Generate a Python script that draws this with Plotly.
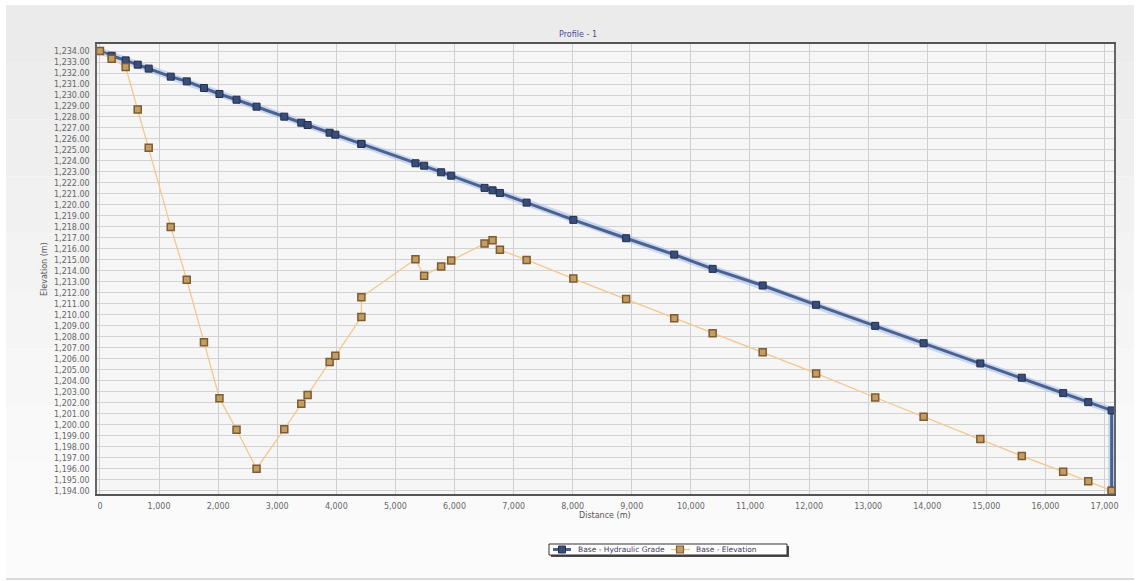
import plotly.graph_objects as go

# Distance along profile (m)
distance = [0, 198, 435, 639, 825, 1198, 1469, 1760, 2022, 2311, 2650, 3119, 3407, 3514,
            3887, 3983, 4424, 4424, 5339, 5486, 5774, 5944, 6508, 6644, 6768, 7220, 8011,
            8904, 9718, 10368, 11215, 12119, 13119, 13938, 14898, 15600, 16300, 16724, 17120]

# Base - Hydraulic Grade (m)
hydraulic_grade = [1234.0, 1233.57, 1233.15, 1232.76, 1232.4, 1231.67, 1231.24, 1230.64, 1230.09,
                   1229.57, 1228.94, 1228.03, 1227.48, 1227.27, 1226.57, 1226.39, 1225.55, 1225.55,
                   1223.79, 1223.57, 1222.97, 1222.66, 1221.55, 1221.33, 1221.09, 1220.21, 1218.64,
                   1216.97, 1215.48, 1214.18, 1212.67, 1210.91, 1209.0, 1207.42, 1205.58, 1204.28,
                   1202.88, 1202.06, 1201.3]

# End drop of hydraulic grade to the outlet elevation
hgl_end_distance = [17120]
hgl_end_value = [1194.0]

# Base - Elevation (m)
elevation = [1234.0, 1233.3, 1232.55, 1228.67, 1225.2, 1218.0, 1213.2, 1207.5, 1202.42, 1199.55,
             1196.0, 1199.6, 1201.9, 1202.7, 1205.7, 1206.27, 1209.8, 1211.6, 1215.06, 1213.55,
             1214.39, 1214.94, 1216.48, 1216.79, 1215.91, 1215.0, 1213.3, 1211.43, 1209.7, 1208.33,
             1206.6, 1204.67, 1202.48, 1200.73, 1198.7, 1197.15, 1195.73, 1194.85, 1194.0]

series_names = ["Base - Hydraulic Grade", "Base - Elevation"]

y_ticks = list(range(1194, 1235))
x_ticks = list(range(0, 17001, 1000))

hgl_x = distance + hgl_end_distance
hgl_y = hydraulic_grade + hgl_end_value

W, H = 1140, 581
L, R, T, B = 97, 26, 44, 87
PW, PH = W - L - R, H - T - B


def px_x(p):
    return (p - L) / PW


def px_y(p):
    return (H - B - p) / PH


BLUE_LINE, BLUE_MARK, BLUE_EDGE = "#4d6190", "#3a4c78", "#22304f"
OR_LINE, OR_MARK, OR_EDGE = "#f2c88e", "#c49c64", "#7c5c30"

fig = go.Figure()

# glow under the hydraulic grade line
fig.add_trace(go.Scatter(x=hgl_x, y=hgl_y, mode="lines",
                         line=dict(color="rgba(160,190,235,0.55)", width=7),
                         hoverinfo="skip", showlegend=False))
fig.add_trace(go.Scatter(x=hgl_x, y=hgl_y, mode="lines+markers", name=series_names[0],
                         line=dict(color=BLUE_LINE, width=3),
                         marker=dict(symbol="square", size=7, color=BLUE_MARK,
                                     line=dict(color=BLUE_EDGE, width=1)),
                         showlegend=False))
fig.add_trace(go.Scatter(x=distance, y=elevation, mode="lines+markers", name=series_names[1],
                         line=dict(color=OR_LINE, width=1.3),
                         marker=dict(symbol="square", size=7, color=OR_MARK,
                                     line=dict(color=OR_EDGE, width=1.5)),
                         showlegend=False))

shapes = []
# panel background gradient (bands)
bands = ["#ebebeb", "#ededed", "#efefef", "#f1f1f1", "#f3f3f3", "#f5f5f5", "#f7f7f7", "#f9f9f9",
         "#fafafa", "#fbfbfb"]
n = len(bands)
ptop, pbot = 5, 577
for i, c in enumerate(bands):
    y_a = ptop + (pbot - ptop) * i / n
    y_b = ptop + (pbot - ptop) * (i + 1) / n
    shapes.append(dict(type="rect", xref="paper", yref="paper", x0=px_x(6), x1=px_x(1134),
                       y0=px_y(y_b), y1=px_y(y_a), fillcolor=c, line=dict(width=0), layer="below"))
shapes.append(dict(type="line", xref="paper", yref="paper", x0=px_x(6), x1=px_x(1134),
                   y0=px_y(579), y1=px_y(579), line=dict(color="#cccccc", width=1.5)))
shapes.append(dict(type="rect", xref="paper", yref="paper", x0=0, x1=1, y0=0, y1=1,
                   fillcolor="#f6f6f6", line=dict(width=0), layer="below"))

# custom legend box with shadow
lx0, lx1, ly0, ly1 = 549, 787, 544, 555
shapes.append(dict(type="rect", xref="paper", yref="paper", x0=px_x(lx0 + 2), x1=px_x(lx1 + 2),
                   y0=px_y(ly1 + 2), y1=px_y(ly0 + 2), fillcolor="#4a4a4a", line=dict(width=0)))
shapes.append(dict(type="rect", xref="paper", yref="paper", x0=px_x(lx0), x1=px_x(lx1),
                   y0=px_y(ly1), y1=px_y(ly0), fillcolor="#ffffff",
                   line=dict(color="#333333", width=1)))
ym = (ly0 + ly1) / 2
# blue glyph
shapes.append(dict(type="line", xref="paper", yref="paper", x0=px_x(553), x1=px_x(571),
                   y0=px_y(ym), y1=px_y(ym), line=dict(color=BLUE_LINE, width=3)))
shapes.append(dict(type="rect", xref="paper", yref="paper", x0=px_x(558.5), x1=px_x(565.5),
                   y0=px_y(ym + 3.5), y1=px_y(ym - 3.5), fillcolor=BLUE_MARK,
                   line=dict(color=BLUE_EDGE, width=1)))
# orange glyph
shapes.append(dict(type="line", xref="paper", yref="paper", x0=px_x(671), x1=px_x(690),
                   y0=px_y(ym), y1=px_y(ym), line=dict(color=OR_LINE, width=1.3)))
shapes.append(dict(type="rect", xref="paper", yref="paper", x0=px_x(676.5), x1=px_x(683.5),
                   y0=px_y(ym + 3.5), y1=px_y(ym - 3.5), fillcolor=OR_MARK,
                   line=dict(color=OR_EDGE, width=1.2)))

font = "DejaVu Sans"
fig.update_layout(
    width=W, height=H,
    margin=dict(l=L, r=R, t=T, b=B, autoexpand=False),
    paper_bgcolor="#ffffff",
    plot_bgcolor="rgba(0,0,0,0)",
    font=dict(family=font, size=8, color="#555555"),
    title=dict(text="Profile - 1", x=px_x(578), xref="paper", xanchor="center",
               y=1 - 34 / H, yref="container", yanchor="middle",
               font=dict(family=font, size=8, color="#4b4b9a")),
    showlegend=False,
    shapes=shapes,
    xaxis=dict(range=[-50, 17160], tickvals=x_ticks, tickformat=",d",
               showgrid=True, gridcolor="#cfcfcf", gridwidth=1, zeroline=False,
               showline=True, linecolor="#555555", linewidth=2, mirror=True,
               ticks="", ticklabelstandoff=3, automargin=False,
               tickfont=dict(size=8, color="#666666")),
    yaxis=dict(range=[1193.7, 1234.64], tickvals=y_ticks, tickformat=",.2f",
               showgrid=True, gridcolor="#d2d2d2", gridwidth=1, zeroline=False,
               showline=True, linecolor="#666666", linewidth=1.5, mirror=True,
               ticks="", ticklabelstandoff=4, automargin=False,
               tickfont=dict(size=8, color="#666666")),
    annotations=[
        dict(text="Distance (m)", xref="paper", yref="paper", x=px_x(605), y=px_y(515),
             showarrow=False, xanchor="center", yanchor="middle",
             font=dict(family=font, size=8, color="#555555")),
        dict(text="Elevation (m)", xref="paper", yref="paper", x=px_x(44), y=0.5,
             showarrow=False, textangle=-90, xanchor="center", yanchor="middle",
             font=dict(family=font, size=8, color="#555555")),
        dict(text=series_names[0], xref="paper", yref="paper", x=px_x(576), y=px_y(ym),
             showarrow=False, xanchor="left", yanchor="middle",
             font=dict(family=font, size=7.5, color="#3c3c66")),
        dict(text=series_names[1], xref="paper", yref="paper", x=px_x(694), y=px_y(ym),
             showarrow=False, xanchor="left", yanchor="middle",
             font=dict(family=font, size=7.5, color="#3c3c66")),
    ],
)

fig.write_html("out.html", post_script="document.body.style.margin='0';",
               config={"displayModeBar": False})
